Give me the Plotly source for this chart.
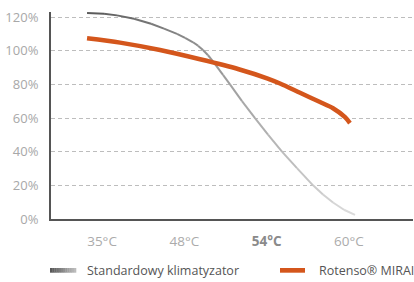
import plotly.graph_objects as go

# Category positions: 0=35°C, 1=48°C, 2=54°C, 3=60°C
tick_pos = [0, 1, 2, 3]
tick_labels = ["35°C", "48°C", "54°C", "60°C"]
y_ticks = [0, 20, 40, 60, 80, 100, 120]
y_labels = ["0%", "20%", "40%", "60%", "80%", "100%", "120%"]

std_x = [-0.182, 0.024, 0.182, 0.389, 0.596, 0.753, 0.911, 1.009, 1.106, 1.166, 1.227, 1.288,
         1.349, 1.470, 1.555, 1.701, 1.859, 2.017, 2.187, 2.369, 2.564, 2.685, 2.807, 2.940, 3.074]
std_y = [122.4, 122.0, 121.0, 119.0, 116.0, 113.1, 110.0, 107.6, 105.0, 103.0, 100.4, 97.3,
         93.7, 85.6, 80.0, 70.0, 60.0, 50.2, 40.0, 30.2, 20.0, 14.6, 9.8, 5.5, 2.4]

mirai_x = [-0.182, 0.219, 0.705, 1.191, 1.661, 2.005, 2.163, 2.406, 2.649, 2.807, 2.953, 3.013]
mirai_y = [107.4, 104.8, 100.4, 94.9, 89.0, 83.6, 80.5, 75.0, 69.5, 65.8, 60.5, 57.0]

legend_names = ["Standardowy klimatyzator", "Rotenso® MIRAI"]

ORANGE = "#D4561C"


def lerp_gray(t):
    a, b = 0x58, 0xDE
    v = int(round(a + (b - a) * t))
    return f"rgb({v},{v},{v})"


fig = go.Figure()

# gray gradient line as segments (colour follows position along x)
xs0, xs1 = std_x[0], std_x[-1]
n = len(std_x) - 1
for i in range(n):
    t = ((std_x[i] + std_x[i + 1]) / 2 - xs0) / (xs1 - xs0)
    fig.add_trace(go.Scatter(
        x=std_x[i:i + 2], y=std_y[i:i + 2], mode="lines",
        line=dict(color=lerp_gray(t), width=2),
        hoverinfo="skip", showlegend=False))

fig.add_trace(go.Scatter(
    x=mirai_x, y=mirai_y, mode="lines",
    line=dict(color=ORANGE, width=4.5, shape="spline", smoothing=0.8),
    hoverinfo="skip", showlegend=False))

# plot-area geometry in px
L, R, T, B = 51, 1, 12, 63
W, H = 414, 282
pw, ph = W - L - R, H - T - B


def px_to_paper_x(px):
    return (px - L) / pw


def py_to_paper_y(py):
    return (H - B - py) / ph


shapes = []
# gradient legend swatch
steps = 12
x0, x1 = 50, 76
for k in range(steps):
    xa = x0 + (x1 - x0) * k / steps
    xb = x0 + (x1 - x0) * (k + 1) / steps + 0.3
    shapes.append(dict(type="rect", xref="paper", yref="paper",
                       x0=px_to_paper_x(xa), x1=px_to_paper_x(xb),
                       y0=py_to_paper_y(272.7), y1=py_to_paper_y(268),
                       fillcolor=lerp_gray(k / (steps - 1) * 0.75), line=dict(width=0)))
shapes.append(dict(type="rect", xref="paper", yref="paper",
                   x0=px_to_paper_x(280), x1=px_to_paper_x(305),
                   y0=py_to_paper_y(272.7), y1=py_to_paper_y(268),
                   fillcolor=ORANGE, line=dict(width=0)))

annotations = [
    dict(text=legend_names[0], xref="paper", yref="paper",
         x=px_to_paper_x(85), y=py_to_paper_y(270.5), xanchor="left", yanchor="middle",
         showarrow=False, font=dict(size=12.5, color="#555555", family="Open Sans")),
    dict(text=legend_names[1], xref="paper", yref="paper",
         x=px_to_paper_x(317), y=py_to_paper_y(270.5), xanchor="left", yanchor="middle",
         showarrow=False, font=dict(size=12.5, color="#555555", family="Open Sans")),
]

ticktext = []
for lab in tick_labels:
    if lab == "54°C":
        ticktext.append("<b><span style='color:#8a8a8a'>" + lab + "</span></b>")
    else:
        ticktext.append(lab)

fig.update_layout(
    width=W, height=H,
    margin=dict(l=L, r=R, t=T, b=B),
    plot_bgcolor="white", paper_bgcolor="white",
    font=dict(family="Open Sans", color="#aaaaaa"),
    shapes=shapes, annotations=annotations,
    showlegend=False,
    xaxis=dict(range=[-0.62, 3.779], tickvals=tick_pos, ticktext=ticktext,
               showgrid=False, zeroline=False, showline=True, linecolor="#555555", linewidth=2,
               ticks="outside", ticklen=9, tickcolor="rgba(0,0,0,0)",
               tickfont=dict(size=13.5, color="#ababab", family="Open Sans"), fixedrange=True),
    yaxis=dict(range=[0, 123], tickvals=y_ticks, ticktext=y_labels,
               showgrid=True, gridcolor="#bdbdbd", gridwidth=1, griddash="4px,3px",
               zeroline=False, showline=True, linecolor="#555555", linewidth=2,
               ticks="outside", ticklen=8, tickcolor="rgba(0,0,0,0)",
               tickfont=dict(size=13, color="#a8a8a8", family="Open Sans"), fixedrange=True),
)

fig.write_html("out.html", config={"displayModeBar": False},
               post_script="document.body.style.margin='0';document.body.style.overflow='hidden';")
